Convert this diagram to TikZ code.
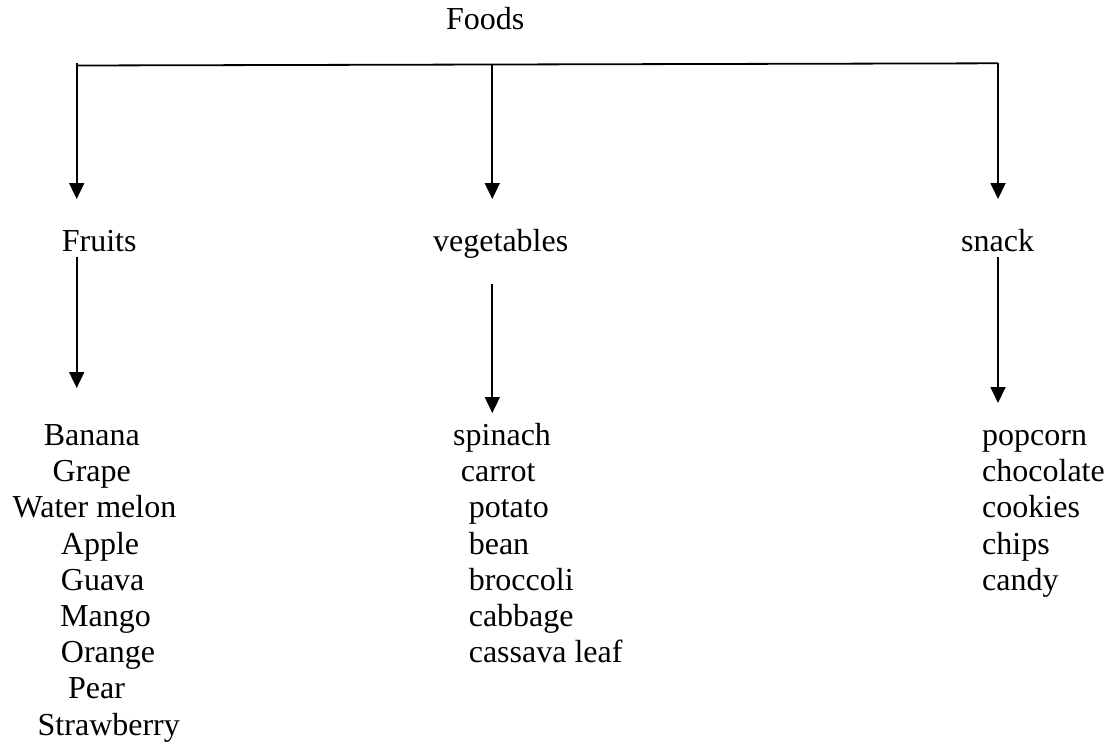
\documentclass[tikz,border=0pt]{standalone}
\usepackage{fontspec}
\setmainfont{Liberation Serif}
\usetikzlibrary{arrows.meta}
\begin{document}
\begin{tikzpicture}[x=1pt,y=-1pt,
  lbl/.style={anchor=base west,inner sep=0pt,font=\fontsize{32}{36.5}\selectfont},
  conn/.style={line width=1.8pt},
  arr/.style={conn,-{Triangle[width=15pt,length=16pt]}}]
\useasboundingbox (0,0) rectangle (1114,744);

% title and the three categories
\node[lbl] (foods) at (446,29.5) {Foods};
\node[lbl] (fruits) at (61.7,251.5) {Fruits};
\node[lbl] (veg) at (433,251.5) {vegetables};
\node[lbl] (snack) at (961,251.5) {snack};

% branching bar below the title
\coordinate (barL) at (76.7,65.5);
\coordinate (barM) at (492.3,64.5);
\coordinate (barR) at (998,63.3);
\coordinate (topL) at (76.7,62.7);
\coordinate (tipL) at (76.7,199);
\coordinate (tipM) at (492.3,199);
\coordinate (tipR) at (998,199);
\draw[conn] (barL) -- (barR);
\draw[arr] (topL) -- (tipL);
\draw[arr] (barM) -- (tipM);
\draw[arr] (barR) -- (tipR);

% arrows from each category down to its list
\coordinate (fs) at (76.7,257);
\coordinate (ft) at (76.7,388);
\coordinate (vs) at (492.3,284);
\coordinate (vt) at (492.3,413);
\coordinate (ss) at (998,257);
\coordinate (st) at (998,403);
\draw[arr] (fs) -- (ft);
\draw[arr] (vs) -- (vt);
\draw[arr] (ss) -- (st);

% fruit list
\foreach \x/\t [count=\i] in {43.6/Banana,52.5/Grape,12.5/Water melon,60.7/Apple,
    60.7/Guava,60/Mango,60.7/Orange,68/Pear,37.5/Strawberry}
  \node[lbl] (fruit\i) at (\x,{445.5+36.2*(\i-1)}) {\t};

% vegetable list
\foreach \x/\t [count=\i] in {453/spinach,460.7/carrot,468.6/potato,468.6/bean,
    468.6/broccoli,468.6/cabbage,468.6/cassava leaf}
  \node[lbl] (vegitem\i) at (\x,{445.5+36.2*(\i-1)}) {\t};

% snack list
\foreach \t [count=\i] in {popcorn,chocolate,cookies,chips,candy}
  \node[lbl] (snackitem\i) at (982,{445.5+36.2*(\i-1)}) {\t};
\end{tikzpicture}
\end{document}
